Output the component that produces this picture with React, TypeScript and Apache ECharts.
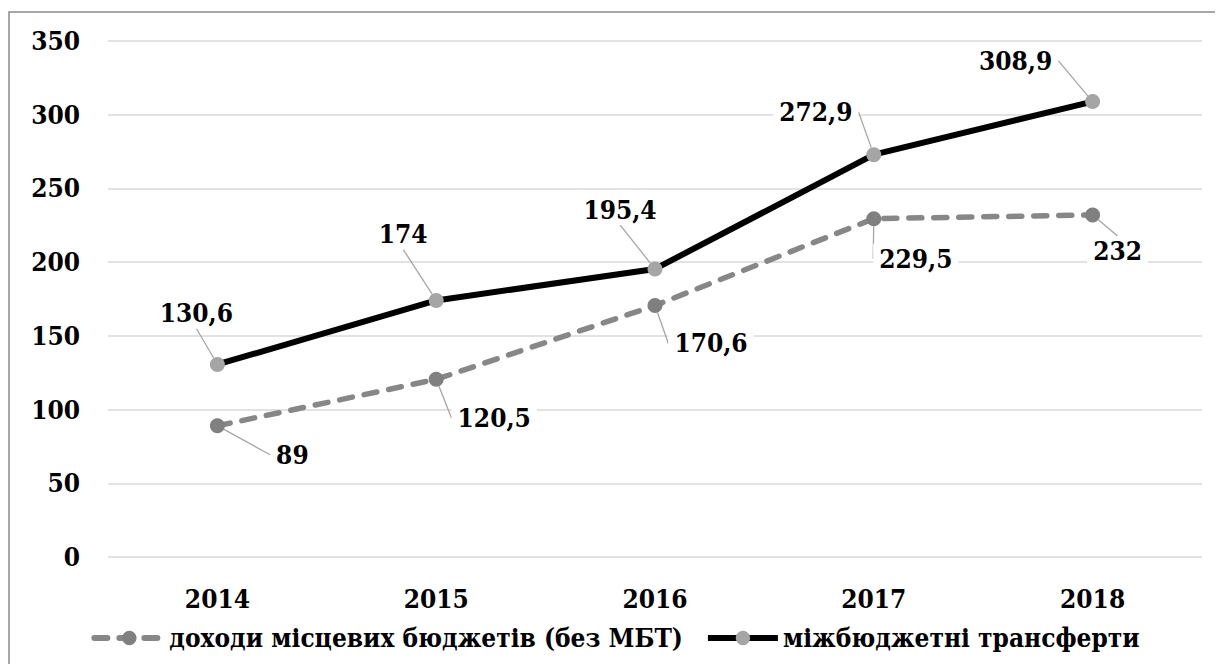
import React, { useEffect, useRef } from "react";
import * as echarts from "echarts";

const years = ["2014", "2015", "2016", "2017", "2018"];
const localRevenue = [89, 120.5, 170.6, 229.5, 232];
const transfers = [130.6, 174, 195.4, 272.9, 308.9];
const seriesNames = ["доходи місцевих бюджетів (без МБТ)", "міжбюджетні трансферти"];

// label offsets (label centre relative to point), px
const localOffsets: [number, number][] = [[75, 29], [58, 39], [56, 38], [42, 40], [25, 36]];
const transferOffsets: [number, number][] = [[-21, -51], [-33, -66], [-35, -59], [-58, -43], [-77, -41]];

const FONT = "DejaVu Serif Condensed";
const FS = 26;
const fmt = (v: number) => String(v).replace(".", ",");

export default function App() {
  const ref = useRef<HTMLDivElement>(null);
  useEffect(() => {
    if (!ref.current) return;
    const chart = echarts.init(ref.current, null, { renderer: "svg" });
    const labelStyle = {
      show: true,
      position: "inside" as const,
      formatter: (p: any) => fmt(p.value),
      fontFamily: FONT,
      fontWeight: "bold" as const,
      fontSize: FS,
      color: "#000",
      backgroundColor: "#fff",
      padding: [2, 6],
    };
    chart.setOption({
      animation: false,
      backgroundColor: "#fff",
      textStyle: { fontFamily: FONT },
      graphic: [
        {
          type: "rect",
          silent: true,
          shape: { x: 1, y: 4, width: 1400, height: 800 },
          style: { fill: "none", stroke: "#8a8a8a", lineWidth: 1.5 },
        },
      ],
      grid: { left: 100, right: 21, top: 33, bottom: 107 },
      xAxis: {
        type: "category",
        data: years,
        boundaryGap: true,
        axisLine: { show: false },
        axisTick: { show: false },
        axisLabel: {
          margin: 29,
          fontFamily: FONT,
          fontWeight: "bold",
          fontSize: FS,
          color: "#000",
        },
      },
      yAxis: {
        type: "value",
        min: 0,
        max: 350,
        interval: 50,
        axisLine: { show: false },
        axisTick: { show: false },
        splitLine: { lineStyle: { color: "#d9d9d9", width: 1.5 } },
        axisLabel: {
          margin: 28,
          fontFamily: FONT,
          fontWeight: "bold",
          fontSize: FS,
          color: "#000",
        },
      },
      legend: {
        left: "center",
        top: 612,
        itemWidth: 70,
        itemHeight: 18,
        itemGap: 22,
        lineStyle: { width: 6 },
        textStyle: {
          fontFamily: FONT,
          fontWeight: "bold",
          fontSize: FS,
          color: "#000",
        },
        data: seriesNames,
      },
      series: [
        {
          name: seriesNames[0],
          type: "line",
          data: localRevenue,
          symbol: "circle",
          symbolSize: 15,
          z: 3,
          lineStyle: { color: "#878787", width: 5.5, type: [13, 12], cap: "round" },
          itemStyle: { color: "#808080" },
          label: labelStyle,
          labelLine: { show: true, lineStyle: { color: "#a6a6a6", width: 1.3 } },
          labelLayout: (p: any) => ({ dx: localOffsets[p.dataIndex][0], dy: localOffsets[p.dataIndex][1] }),
        },
        {
          name: seriesNames[1],
          type: "line",
          data: transfers,
          symbol: "circle",
          symbolSize: 15,
          z: 4,
          lineStyle: { color: "#000", width: 6 },
          itemStyle: { color: "#a5a5a5" },
          label: labelStyle,
          labelLine: { show: true, lineStyle: { color: "#a6a6a6", width: 1.3 } },
          labelLayout: (p: any) => ({ dx: transferOffsets[p.dataIndex][0], dy: transferOffsets[p.dataIndex][1] }),
        },
      ],
    });
    return () => chart.dispose();
  }, []);
  return <div ref={ref} style={{ width: 1215, height: 656 }} />;
}
